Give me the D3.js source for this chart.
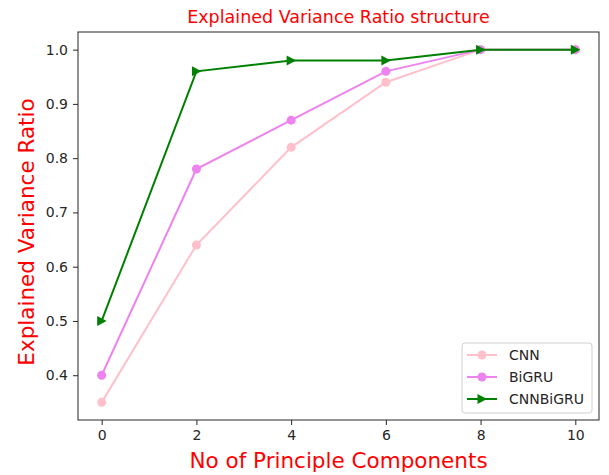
<!DOCTYPE html>
<html>
<head>
<meta charset="utf-8">
<script src="https://cdn.jsdelivr.net/npm/d3@7"></script>
<style>
  body { margin: 0; background: #fff; }
  svg { display: block; font-family: 'DejaVu Sans', sans-serif; }
</style>
</head>
<body>
<div id="chart"></div>
<script>
// Data
const components = [0, 2, 4, 6, 8, 10];
const cnnValues = [0.35, 0.64, 0.82, 0.94, 1.0, 1.0];
const bigruValues = [0.40, 0.78, 0.87, 0.96, 1.0, 1.0];
const cnnBigruValues = [0.50, 0.96, 0.98, 0.98, 1.0, 1.0];
const xTicks = [0, 2, 4, 6, 8, 10];
const yTicks = [0.4, 0.5, 0.6, 0.7, 0.8, 0.9, 1.0];

const seriesList = [
  { name: 'CNN', values: cnnValues, color: '#FFC0CB', marker: 'circle' },
  { name: 'BiGRU', values: bigruValues, color: '#EE82EE', marker: 'circle' },
  { name: 'CNNBiGRU', values: cnnBigruValues, color: '#008000', marker: 'triangle' }
];

const width = 609, height = 475;
const margin = { top: 32, right: 10, bottom: 55, left: 78 };
const innerW = width - margin.left - margin.right;
const innerH = height - margin.top - margin.bottom;

const svg = d3.select('#chart').append('svg')
  .attr('width', width)
  .attr('height', height);

const g = svg.append('g')
  .attr('transform', `translate(${margin.left},${margin.top})`);

// matplotlib-style 5% margins
const x = d3.scaleLinear().domain([-0.5, 10.5]).range([0, innerW]);
const y = d3.scaleLinear().domain([0.3175, 1.0325]).range([innerH, 0]);

// Axes
const xAxis = g.append('g')
  .attr('transform', `translate(0,${innerH})`)
  .call(d3.axisBottom(x).tickValues(xTicks).tickFormat(d3.format('d')).tickSize(5).tickPadding(5));
const yAxis = g.append('g')
  .call(d3.axisLeft(y).tickValues(yTicks).tickFormat(d3.format('.1f')).tickSize(5).tickPadding(5));

[xAxis, yAxis].forEach(ax => {
  ax.select('.domain').remove();
  ax.selectAll('text').attr('font-size', 14).attr('fill', '#262626').attr('font-family', "'DejaVu Sans', sans-serif");
  ax.selectAll('line').attr('stroke', '#262626');
});

// Frame
g.append('rect')
  .attr('width', innerW)
  .attr('height', innerH)
  .attr('fill', 'none')
  .attr('stroke', '#262626')
  .attr('stroke-width', 1);

const line = d3.line()
  .x((d, i) => x(components[i]))
  .y(d => y(d));

const triangle = 'M5,0L-4.5,5L-4.5,-5Z';

function drawMarker(sel, marker, color) {
  if (marker === 'circle') {
    sel.append('circle').attr('r', 4.5).attr('fill', color);
  } else {
    sel.append('path').attr('d', triangle).attr('fill', color);
  }
}

seriesList.forEach(s => {
  g.append('path')
    .datum(s.values)
    .attr('fill', 'none')
    .attr('stroke', s.color)
    .attr('stroke-width', 2)
    .attr('d', line);

  s.values.forEach((v, i) => {
    const m = g.append('g').attr('transform', `translate(${x(components[i])},${y(v)})`);
    drawMarker(m, s.marker, s.color);
  });
});

// Title and axis labels
svg.append('text')
  .attr('x', margin.left + innerW / 2)
  .attr('y', 23)
  .attr('text-anchor', 'middle')
  .attr('font-size', 17.5)
  .attr('fill', 'red')
  .text('Explained Variance Ratio structure');

svg.append('text')
  .attr('x', margin.left + innerW / 2)
  .attr('y', 468)
  .attr('text-anchor', 'middle')
  .attr('font-size', 21.5)
  .attr('fill', 'red')
  .text('No of Principle Components');

svg.append('text')
  .attr('transform', `translate(34,${margin.top + innerH / 2 + 6}) rotate(-90)`)
  .attr('text-anchor', 'middle')
  .attr('font-size', 21.5)
  .attr('fill', 'red')
  .text('Explained Variance Ratio');

// Legend
const legend = svg.append('g').attr('transform', 'translate(462,343)');
legend.append('rect')
  .attr('width', 130)
  .attr('height', 70)
  .attr('rx', 3)
  .attr('fill', 'white')
  .attr('fill-opacity', 0.8)
  .attr('stroke', '#d0d0d0');

seriesList.forEach((s, i) => {
  const row = legend.append('g').attr('transform', `translate(0,${12 + i * 22})`);
  row.append('line')
    .attr('x1', 5).attr('x2', 35)
    .attr('stroke', s.color).attr('stroke-width', 2);
  const m = row.append('g').attr('transform', 'translate(20,0)');
  drawMarker(m, s.marker, s.color);
  row.append('text')
    .attr('x', 47)
    .attr('y', 5)
    .attr('font-size', 14)
    .attr('fill', '#262626')
    .text(s.name);
});
</script>
</body>
</html>
